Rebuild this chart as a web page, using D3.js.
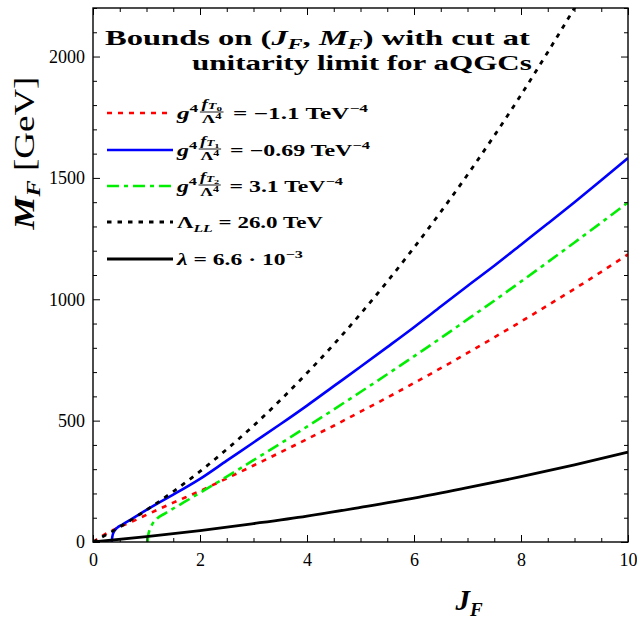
<!DOCTYPE html>
<html>
<head>
<meta charset="utf-8">
<script src="https://cdn.jsdelivr.net/npm/d3@7"></script>
<style>
body { margin: 0; background: #fff; }
text { font-family: "Liberation Serif", "Times New Roman", serif; white-space: pre; }
</style>
</head>
<body>
<script>
// values: J_F (x) and M_F in GeV (y)
var jT0 = [0, 0.25, 0.5, 0.75, 1, 1.5, 2, 2.5, 3, 3.5, 4, 4.5, 5, 5.5, 6, 6.5, 7, 7.5, 8, 8.5, 9, 9.5, 10]
var mT0 = [0, 35, 62, 86, 112, 162, 210, 262, 315, 369, 424, 479, 537, 595, 655, 716, 779, 843, 908, 975, 1043, 1113, 1185]

var jT1 = [0.35, 0.36, 0.39, 0.45, 0.55, 0.75, 1, 1.25, 1.5, 2, 2.5, 3, 3.5, 4, 4.5, 5, 5.5, 6, 6.5, 7, 7.5, 8, 8.5, 9, 9.5, 10]
var mT1 = [0, 20, 42, 58, 72, 98, 132, 164, 195, 260, 335, 410, 485, 562, 642, 722, 803, 885, 970, 1055, 1138, 1225, 1312, 1400, 1490, 1582]

var jT2 = [1.02, 1.03, 1.06, 1.1, 1.2, 1.35, 1.5, 1.75, 2, 2.5, 3, 3.5, 4, 4.5, 5, 5.5, 6, 6.5, 7, 7.5, 8, 8.5, 9, 9.5, 10]
var mT2 = [0, 25, 50, 70, 97, 118, 138, 170, 203, 269, 337, 405, 475, 546, 618, 691, 765, 840, 917, 994, 1073, 1153, 1234, 1316, 1399]

var jLL = [0, 0.5, 1, 1.5, 2, 2.5, 3, 3.5, 4, 4.5, 5, 5.5, 6, 6.5, 7, 7.5, 8, 8.5, 9, 9.2]
var mLL = [0, 62, 132, 208, 291, 382, 479, 584, 696, 814, 940, 1073, 1213, 1360, 1513, 1674, 1842, 2018, 2200, 2274]

var jLam = [0, 1, 2, 3, 4, 5, 6, 7, 8, 9, 10]
var mLam = [0, 22, 47, 76, 107, 143, 181, 224, 269, 318, 370]

var xMajor = [0, 2, 4, 6, 8, 10]
var yMajor = [0, 500, 1000, 1500, 2000]

var series = [
  {j: jT0, m: mT0, color: "#ff0000", width: 2.6, dash: "5,6"},
  {j: jT1, m: mT1, color: "#0000ff", width: 2.6, dash: null},
  {j: jT2, m: mT2, color: "#00ee00", width: 2.6, dash: "12,5,4,5"},
  {j: jLL, m: mLL, color: "#000000", width: 2.8, dash: "4.5,6"},
  {j: jLam, m: mLam, color: "#000000", width: 2.8, dash: null}
]

var W = 637, H = 620
var pL = 93, pR = 628, pT = 8, pB = 542

var x = d3.scaleLinear().domain([0, 10]).range([pL, pR])
var y = d3.scaleLinear().domain([0, 2200]).range([pB, pT])

var svg = d3.select("body").append("svg")
    .attr("width", W)
    .attr("height", H)

svg.append("defs").append("clipPath").attr("id", "plot")
  .append("rect")
    .attr("x", pL).attr("y", pT)
    .attr("width", pR - pL).attr("height", pB - pT)

// curves
var line = d3.line().x(d => x(d[0])).y(d => y(d[1])).curve(d3.curveMonotoneX)
svg.append("g").attr("clip-path", "url(#plot)")
  .selectAll("path")
  .data(series)
  .join("path")
    .attr("d", s => line(s.j.map((v, i) => [v, s.m[i]])))
    .attr("fill", "none")
    .attr("stroke", s => s.color)
    .attr("stroke-width", s => s.width)
    .attr("stroke-dasharray", s => s.dash)

// axes with inward ticks on all four sides
var xMinor = d3.range(0, 10.01, 0.5).filter(v => v % 2 !== 0)
var yMinor = d3.range(0, 2201, 100).filter(v => v % 500 !== 0)

function ticks(axis, vals, size, labels) {
  return g => g.call(axis.tickValues(vals).tickSize(-size).tickFormat(labels ? d3.format("d") : ""))
    .call(g => g.select(".domain").remove())
    .call(g => g.selectAll("line").attr("stroke-width", 1))
}

var gx = svg.append("g").attr("transform", `translate(0,${pB})`)
gx.append("g").call(ticks(d3.axisBottom(x), xMinor, 4, false))
gx.append("g").call(ticks(d3.axisBottom(x), xMajor, 7, true))
gx.selectAll("text").attr("y", 24).attr("dy", null)
  .attr("font-size", 18).attr("font-family", "Liberation Serif").attr("fill", "#000")

var gxt = svg.append("g").attr("transform", `translate(0,${pT})`)
gxt.append("g").call(ticks(d3.axisTop(x), xMinor, 4, false))
gxt.append("g").call(ticks(d3.axisTop(x), xMajor, 7, false))

var gy = svg.append("g").attr("transform", `translate(${pL},0)`)
gy.append("g").call(ticks(d3.axisLeft(y), yMinor, 4, false))
gy.append("g").call(ticks(d3.axisLeft(y).tickPadding(8), yMajor, 7, true))
gy.selectAll("text").attr("font-size", 18).attr("font-family", "Liberation Serif").attr("fill", "#000")

var gyr = svg.append("g").attr("transform", `translate(${pR},0)`)
gyr.append("g").call(ticks(d3.axisRight(y), yMinor, 4, false))
gyr.append("g").call(ticks(d3.axisRight(y), yMajor, 7, false))

svg.append("rect")
    .attr("x", pL).attr("y", pT)
    .attr("width", pR - pL).attr("height", pB - pT)
    .attr("fill", "none").attr("stroke", "#000").attr("stroke-width", 1.4)

// lays out a row of text pieces (with sub/superscripts and fractions), returns its width
function runs(g, parts, x0, base, size) {
  var xx = x0
  parts.forEach(p => {
    if (p.frac) {
      var ng = g.append("g"), dg = g.append("g")
      var wn = runs(ng, p.frac[0], 0, base - 11.5, 12)
      var wd = runs(dg, p.frac[1], 0, base + 4, 12)
      var w = Math.max(wn, wd) + 2
      ng.attr("transform", `translate(${xx + 1 + (w - wn) / 2},0)`)
      dg.attr("transform", `translate(${xx + 1 + (w - wd) / 2},0)`)
      g.append("line")
          .attr("x1", xx + 1).attr("x2", xx + w + 1)
          .attr("y1", base - 7).attr("y2", base - 7)
          .attr("stroke", "#000").attr("stroke-width", 0.9)
      xx += w + 3
    } else {
      var t = g.append("text")
          .attr("x", xx).attr("y", base + (p.dy || 0))
          .attr("font-size", p.size || size)
          .attr("font-weight", p.normal ? "normal" : "bold")
          .attr("font-style", p.it ? "italic" : null)
          .text(p.s)
      xx += t.node().getComputedTextLength() + (p.kern || 0)
    }
  })
  return xx - x0
}

// title
var t1 = svg.append("g")
var w1 = runs(t1, [
  {s: "Bounds on ("}, {s: "J", it: 1}, {s: "F", it: 1, size: 15, dy: 4},
  {s: ", "}, {s: "M", it: 1}, {s: "F", it: 1, size: 15, dy: 4}, {s: ") with cut at"}
], 0, 0, 22)
t1.attr("transform", `translate(105,45) scale(${425 / w1},1)`)
var t2 = svg.append("g")
var w2 = runs(t2, [{s: "unitarity limit for aQGCs"}], 0, 0, 22)
t2.attr("transform", `translate(192,70) scale(${340 / w2},1)`)

// legend
var sup = (s) => ({s: s, size: 11, dy: -7})
var fracT = (k) => ({frac: [
  [{s: "f", it: 1}, {s: "T", it: 1, size: 9, dy: 1.5}, {s: k, size: 7, dy: 3}],
  [{s: "Λ"}, {s: "4", size: 8, dy: -4}]
]})
var legendRows = [
  [{s: "g", it: 1}, sup("4"), fracT("0"), {s: " = −1.1 TeV"}, sup("−4")],
  [{s: "g", it: 1}, sup("4"), fracT("1"), {s: " = −0.69 TeV"}, sup("−4")],
  [{s: "g", it: 1}, sup("4"), fracT("2"), {s: " = 3.1 TeV"}, sup("−4")],
  [{s: "Λ"}, {s: "LL", it: 1, size: 11, dy: 4}, {s: " = 26.0 TeV"}],
  [{s: "λ", it: 1}, {s: " = 6.6 · 10"}, sup("−3")]
]
var legendY = [113, 150, 186, 222, 259]
var legendEnd = [368, 370, 343, 323, 303]

var lg = svg.append("g")
legendRows.forEach((row, i) => {
  var s = series[i]
  lg.append("line")
      .attr("x1", 107).attr("x2", 173)
      .attr("y1", legendY[i]).attr("y2", legendY[i])
      .attr("stroke", s.color).attr("stroke-width", s.width)
      .attr("stroke-dasharray", s.dash)
  var rg = lg.append("g")
  var w = runs(rg, row, 0, 0, 16)
  rg.attr("transform", `translate(177,${legendY[i] + 6}) scale(${(legendEnd[i] - 177) / w},1)`)
})

// axis titles
var yl = svg.append("g")
var wy = runs(yl, [{s: "M", it: 1}, {s: "F", it: 1, size: 19, dy: 6}, {s: " [GeV]", normal: 1}], 0, 0, 29)
yl.attr("transform", `translate(34,153) rotate(-90) scale(${153 / wy},1) translate(${-wy / 2},0)`)

var xl = svg.append("g")
var wx = runs(xl, [{s: "J", it: 1}, {s: "F", it: 1, size: 19, dy: 6}], 0, 0, 29)
xl.attr("transform", `translate(${469 - wx / 2},610)`)
</script>
</body>
</html>
